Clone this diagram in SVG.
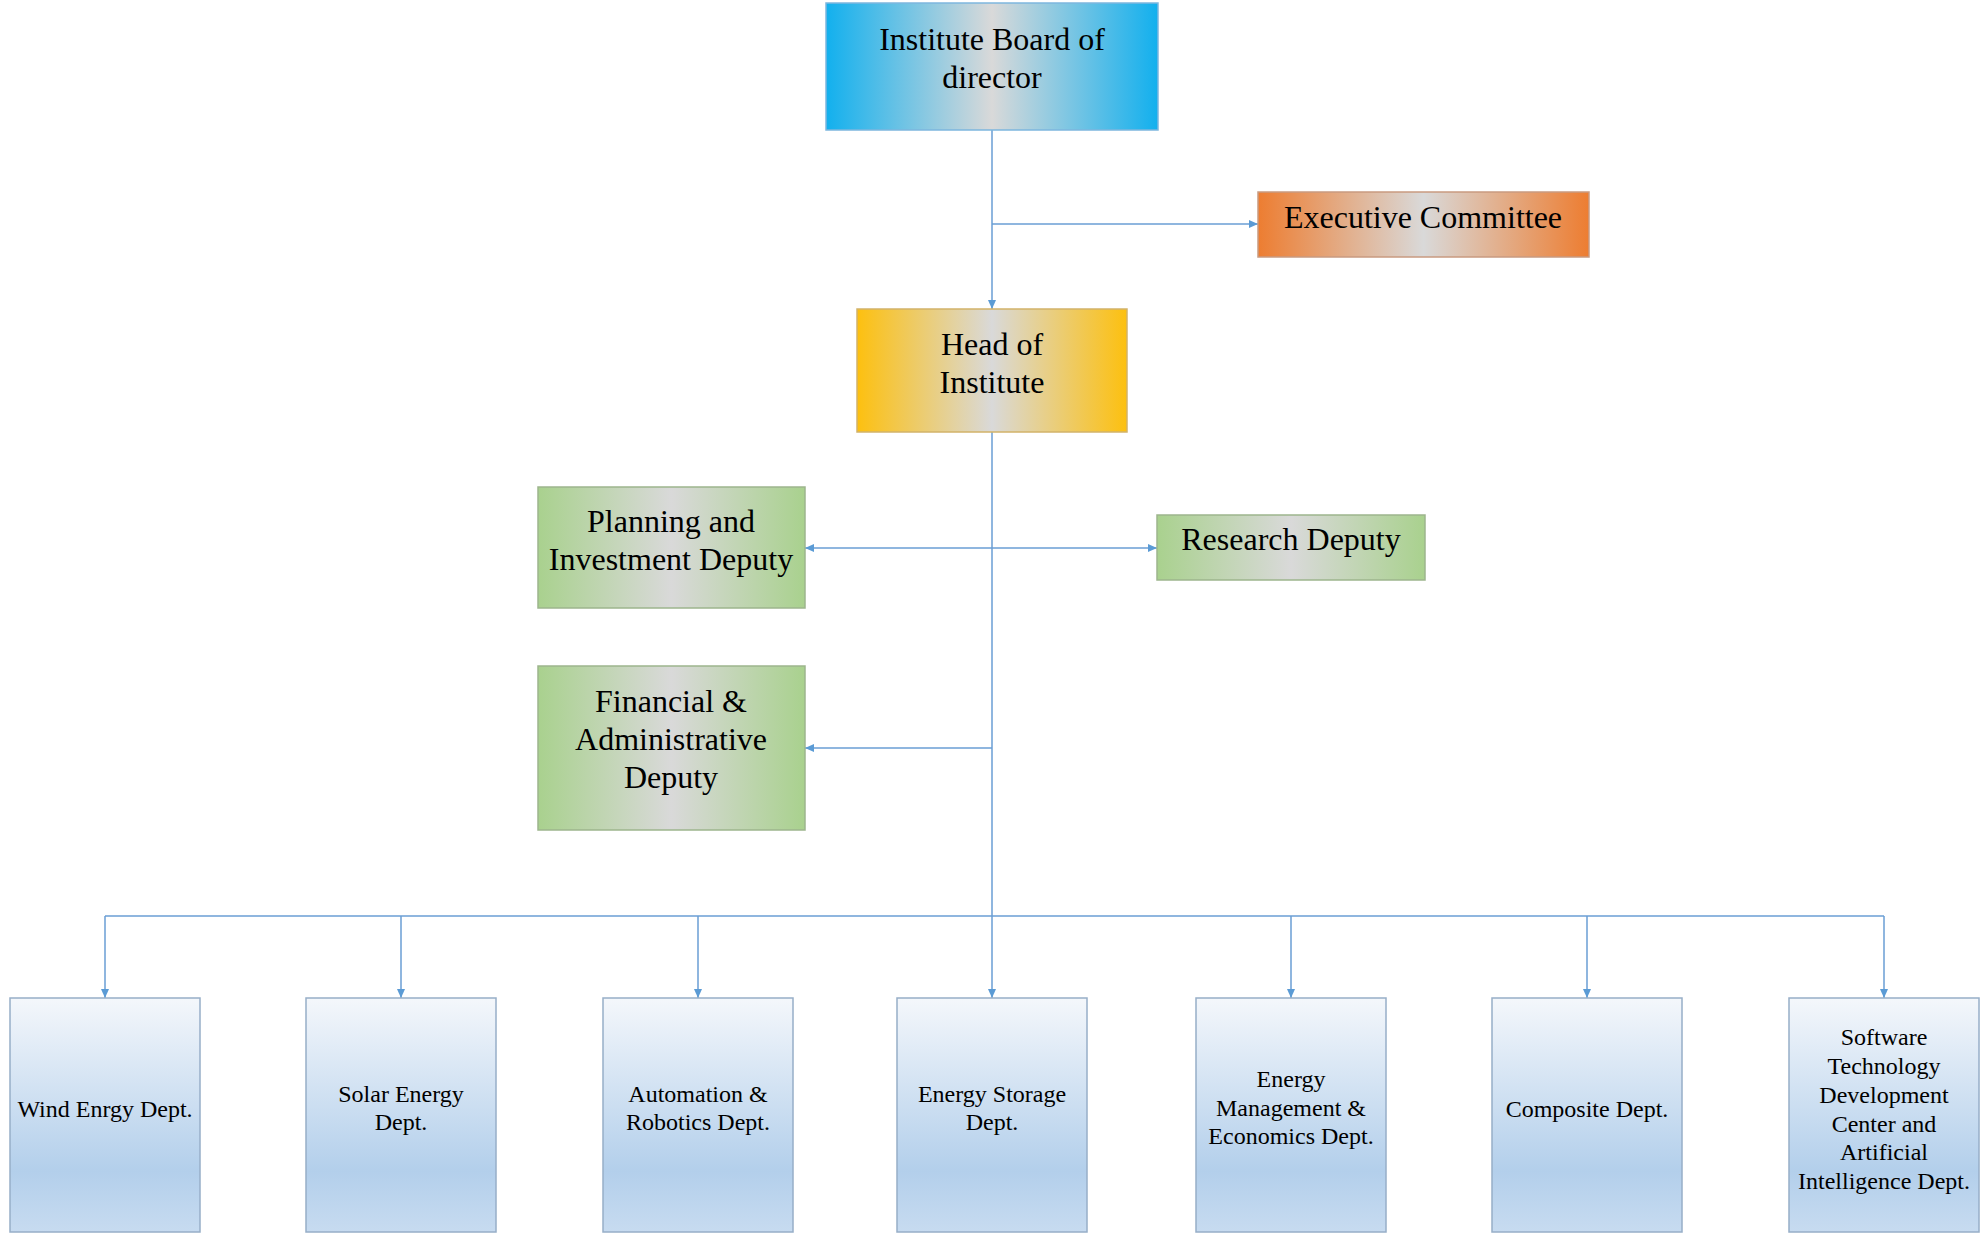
<svg xmlns="http://www.w3.org/2000/svg" width="1987" height="1240" viewBox="0 0 1987 1240">
<defs>
<linearGradient id="gBlue" x1="0" y1="0" x2="1" y2="0">
<stop offset="0" stop-color="#12B0EE"/><stop offset="0.5" stop-color="#D9D9D9"/><stop offset="1" stop-color="#12B0EE"/>
</linearGradient>
<linearGradient id="gOrange" x1="0" y1="0" x2="1" y2="0">
<stop offset="0" stop-color="#ED7D31"/><stop offset="0.5" stop-color="#D9D9D9"/><stop offset="1" stop-color="#ED7D31"/>
</linearGradient>
<linearGradient id="gGold" x1="0" y1="0" x2="1" y2="0">
<stop offset="0" stop-color="#FDC00F"/><stop offset="0.5" stop-color="#D9D9D9"/><stop offset="1" stop-color="#FDC00F"/>
</linearGradient>
<linearGradient id="gGreen" x1="0" y1="0" x2="1" y2="0">
<stop offset="0" stop-color="#A9D18E"/><stop offset="0.5" stop-color="#D9D9D9"/><stop offset="1" stop-color="#A9D18E"/>
</linearGradient>
<linearGradient id="gDept" x1="0" y1="0" x2="0" y2="1">
<stop offset="0" stop-color="#F4F7FB"/><stop offset="0.74" stop-color="#B3CFEB"/><stop offset="1" stop-color="#C7DBF0"/>
</linearGradient>
<marker id="arr" markerUnits="userSpaceOnUse" markerWidth="9" markerHeight="8" refX="9" refY="4" orient="auto">
<path d="M0,0 L9,4 L0,8 z" fill="#5B9BD5"/>
</marker>
<style>
.t{font-family:"Liberation Serif","Times New Roman",serif;font-size:32px;fill:#000;text-anchor:middle}
.s{font-family:"Liberation Serif","Times New Roman",serif;font-size:24px;fill:#000;text-anchor:middle}
.c{fill:none;stroke:#6A9ED4;stroke-width:1.5}
.a{marker-end:url(#arr)}
.dept{fill:url(#gDept);stroke:#97AEC8;stroke-width:1.5}
</style>
</defs>
<rect width="1987" height="1240" fill="#FFFFFF"/>
<g id="connectors">
<path class="c a" d="M992 130 V309"/>
<path class="c a" d="M992 224 H1258"/>
<path class="c" d="M992 432 V916"/>
<path class="c a" d="M992 548 H805"/>
<path class="c a" d="M992 548 H1157"/>
<path class="c a" d="M992 748 H805"/>
<path class="c" d="M105 916 H1884"/>
<path class="c a" d="M105 916 V998"/>
<path class="c a" d="M401 916 V998"/>
<path class="c a" d="M698 916 V998"/>
<path class="c a" d="M992 916 V998"/>
<path class="c a" d="M1291 916 V998"/>
<path class="c a" d="M1587 916 V998"/>
<path class="c a" d="M1884 916 V998"/>
</g>
<g id="board">
<rect x="826" y="3" width="332" height="127" fill="url(#gBlue)" stroke="#7DB6DE" stroke-width="1.5"/>
<text class="t" x="992" y="50">Institute Board of</text>
<text class="t" x="992" y="88">director</text>
</g>
<g id="executive">
<rect x="1258" y="192" width="331" height="65" fill="url(#gOrange)" stroke="#C99A80" stroke-width="1.5"/>
<text class="t" x="1423" y="228">Executive Committee</text>
</g>
<g id="head">
<rect x="857" y="309" width="270" height="123" fill="url(#gGold)" stroke="#D2B36A" stroke-width="1.5"/>
<text class="t" x="992" y="355">Head of</text>
<text class="t" x="992" y="393">Institute</text>
</g>
<g id="planning">
<rect x="538" y="487" width="267" height="121" fill="url(#gGreen)" stroke="#9DB58D" stroke-width="1.5"/>
<text class="t" x="671" y="532">Planning and</text>
<text class="t" x="671" y="570">Investment Deputy</text>
</g>
<g id="research">
<rect x="1157" y="515" width="268" height="65" fill="url(#gGreen)" stroke="#9DB58D" stroke-width="1.5"/>
<text class="t" x="1291" y="550">Research Deputy</text>
</g>
<g id="financial">
<rect x="538" y="666" width="267" height="164" fill="url(#gGreen)" stroke="#9DB58D" stroke-width="1.5"/>
<text class="t" x="671" y="712">Financial &amp;</text>
<text class="t" x="671" y="750">Administrative</text>
<text class="t" x="671" y="788">Deputy</text>
</g>
<g id="wind">
<rect class="dept" x="10" y="998" width="190" height="234"/>
<text class="s" x="105" y="1117">Wind Enrgy Dept.</text>
</g>
<g id="solar">
<rect class="dept" x="306" y="998" width="190" height="234"/>
<text class="s" x="401" y="1102">Solar Energy</text>
<text class="s" x="401" y="1130">Dept.</text>
</g>
<g id="automation">
<rect class="dept" x="603" y="998" width="190" height="234"/>
<text class="s" x="698" y="1102">Automation &amp;</text>
<text class="s" x="698" y="1130">Robotics Dept.</text>
</g>
<g id="storage">
<rect class="dept" x="897" y="998" width="190" height="234"/>
<text class="s" x="992" y="1102">Energy Storage</text>
<text class="s" x="992" y="1130">Dept.</text>
</g>
<g id="management">
<rect class="dept" x="1196" y="998" width="190" height="234"/>
<text class="s" x="1291" y="1087">Energy</text>
<text class="s" x="1291" y="1116">Management &amp;</text>
<text class="s" x="1291" y="1144">Economics Dept.</text>
</g>
<g id="composite">
<rect class="dept" x="1492" y="998" width="190" height="234"/>
<text class="s" x="1587" y="1117">Composite Dept.</text>
</g>
<g id="software">
<rect class="dept" x="1789" y="998" width="190" height="234"/>
<text class="s" x="1884" y="1045">Software</text>
<text class="s" x="1884" y="1074">Technology</text>
<text class="s" x="1884" y="1103">Development</text>
<text class="s" x="1884" y="1132">Center and</text>
<text class="s" x="1884" y="1160">Artificial</text>
<text class="s" x="1884" y="1189">Intelligence Dept.</text>
</g>
</svg>
